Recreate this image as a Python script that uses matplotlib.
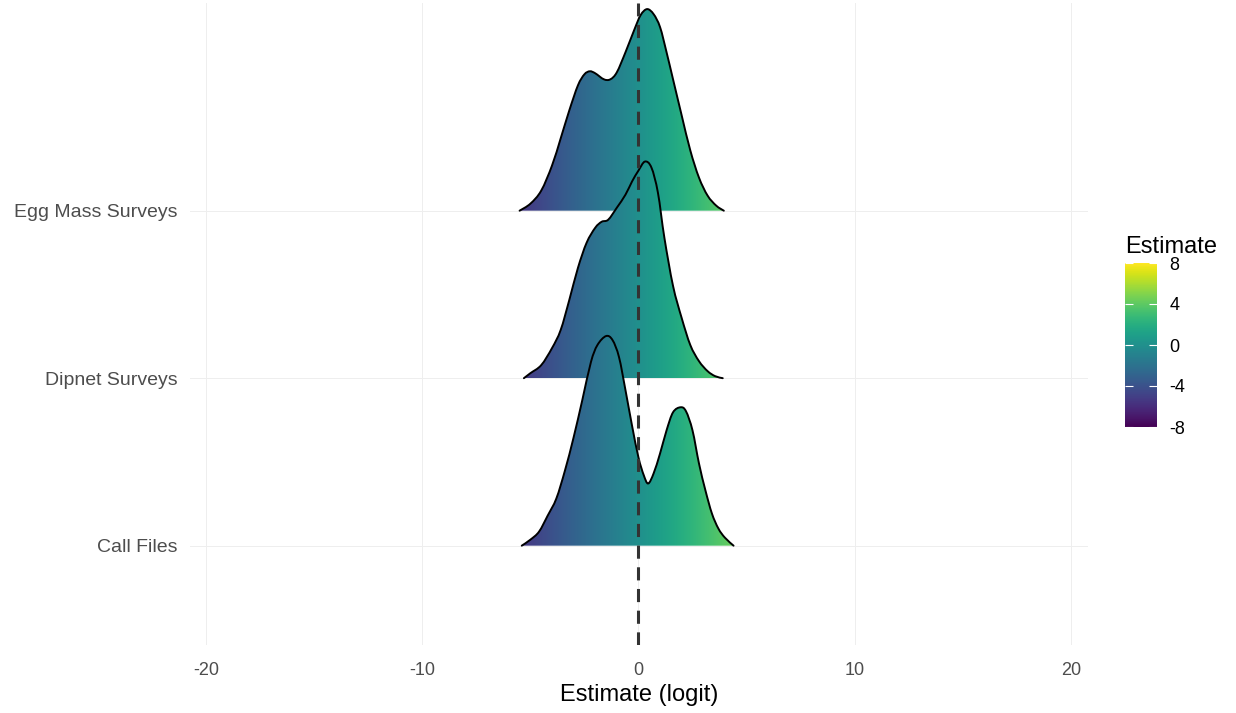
import matplotlib
matplotlib.use("Agg")
import matplotlib.pyplot as plt
import numpy as np
from matplotlib.patches import PathPatch
from matplotlib.path import Path
from matplotlib.colors import Normalize
from matplotlib.cm import ScalarMappable

plt.rcParams['font.family'] = ['Liberation Sans', 'DejaVu Sans']

# rows (bottom to top) and density curves
# heights are in pixels of the reference, one row spacing = 167 px
categories = ["Call Files", "Dipnet Surveys", "Egg Mass Surveys"]

call_x = [-5.4, -5.0, -4.6, -4.2, -3.8, -3.4, -3.0, -2.6, -2.2, -1.9, -1.5, -1.2, -0.9, -0.6,
          -0.3, 0.0, 0.25, 0.45, 0.7, 1.0, 1.3, 1.6, 1.95, 2.2, 2.5, 2.8, 3.1, 3.4, 3.7, 4.0, 4.4]
call_h = [0, 6, 14, 30, 47, 75, 108, 145, 183, 200, 209, 205, 188, 155,
          120, 88, 70, 62, 72, 92, 115, 133, 138, 134, 115, 82, 55, 32, 17, 8, 0]

dip_x = [-5.3, -5.0, -4.5, -4.0, -3.6, -3.2, -2.8, -2.4, -2.0, -1.7, -1.4, -1.0, -0.6, -0.3,
         0.0, 0.3, 0.6, 0.9, 1.2, 1.6, 2.0, 2.4, 2.8, 3.2, 3.55, 3.9]
dip_h = [0, 5, 13, 30, 48, 78, 110, 135, 150, 156, 158, 170, 183, 196,
         207, 216, 210, 185, 140, 92, 60, 33, 17, 7, 2, 0]

egg_x = [-5.5, -5.0, -4.5, -4.0, -3.6, -3.2, -2.8, -2.5, -2.25, -2.0, -1.6, -1.3, -1.0, -0.6,
         -0.2, 0.1, 0.4, 0.7, 1.0, 1.3, 1.6, 2.0, 2.4, 2.8, 3.2, 3.6, 3.95]
egg_h = [0, 7, 20, 45, 72, 100, 125, 136, 139, 137, 131, 131, 138, 158,
         180, 195, 201, 196, 183, 158, 131, 95, 60, 33, 15, 5, 0]

x_ticks = [-20, -10, 0, 10, 20]
cbar_ticks = [-8, -4, 0, 4, 8]

curves = [(call_x, call_h), (dip_x, dip_h), (egg_x, egg_h)]
norm = Normalize(-8, 8)


def smooth_path(pts, close_base=None):
    # draw through the read points with cubic bezier segments (catmull-rom style)
    n = len(pts)
    verts = [pts[0]]
    codes = [Path.MOVETO]
    for k in range(n - 1):
        p0 = pts[max(k - 1, 0)]
        p1 = pts[k]
        p2 = pts[k + 1]
        p3 = pts[min(k + 2, n - 1)]
        c1 = p1 + (p2 - p0) / 6.0
        c2 = p2 - (p3 - p1) / 6.0
        verts += [c1, c2, p2]
        codes += [Path.CURVE4] * 3
    if close_base is not None:
        verts += [[pts[-1][0], close_base], [pts[0][0], close_base], pts[0]]
        codes += [Path.LINETO, Path.LINETO, Path.CLOSEPOLY]
    return Path(np.array(verts), codes)


fig = plt.figure(figsize=(12.36, 7.13), dpi=100)
ax = fig.add_axes([190/1236, 1-645/713, 898/1236, 642/713])

grid_c = '#EEEEEE'
for xt in x_ticks:
    ax.axvline(xt, color=grid_c, lw=0.7, zorder=0)
for i in range(len(categories)):
    ax.axhline(i + 1, color=grid_c, lw=0.7, zorder=0)

grad = np.linspace(-8, 8, 512).reshape(1, -1)
# top row first so lower rows overlap it
for i in reversed(range(len(categories))):
    xs = np.array(curves[i][0], dtype=float)
    hs = np.array(curves[i][1], dtype=float) / 167.0
    base = i + 1
    z = 2 + (len(categories) - i)
    pts = np.column_stack([xs, base + hs])
    fill_path = smooth_path(pts, close_base=base)
    patch = PathPatch(fill_path, facecolor='none', edgecolor='none', zorder=z)
    ax.add_patch(patch)
    im = ax.imshow(grad, cmap='viridis', norm=norm, aspect='auto',
                   extent=[-8, 8, base, base + 1.5], origin='lower', zorder=z,
                   interpolation='bilinear')
    im.set_clip_path(patch)
    line = PathPatch(smooth_path(pts), facecolor='none', edgecolor='black',
                     lw=1.4, zorder=z + 0.1, capstyle='round', joinstyle='round')
    ax.add_patch(line)

ax.axvline(0, color='#333333', lw=2.2, ls=(0, (4.3, 2.8)), zorder=10)

ax.set_xlim(-20.75, 20.8)
ax.set_ylim(0.407, 4.24)
ax.set_xticks(x_ticks)
ax.set_xticklabels([str(v) for v in x_ticks])
ax.set_yticks([1, 2, 3])
ax.set_yticklabels(categories)
ax.tick_params(axis='both', length=0, labelcolor='#4D4D4D')
ax.tick_params(axis='x', labelsize=13, pad=12)
ax.tick_params(axis='y', labelsize=14, pad=9)
ax.set_xlabel('Estimate (logit)', fontsize=17, labelpad=4)
for s in ax.spines.values():
    s.set_visible(False)

cax = fig.add_axes([1125/1236, 1-427/713, 32/1236, 164/713])
sm = ScalarMappable(norm=norm, cmap='viridis')
cb = fig.colorbar(sm, cax=cax, ticks=cbar_ticks)
cb.outline.set_visible(False)
cax.tick_params(axis='y', left=True, right=True, direction='in', color='white',
                length=6, width=0.8, labelsize=13, pad=9)
cax.set_yticklabels([str(v) for v in cbar_ticks])
cax.set_title('Estimate', loc='left', fontsize=17, pad=7)

fig.savefig('out.png', dpi=100)
